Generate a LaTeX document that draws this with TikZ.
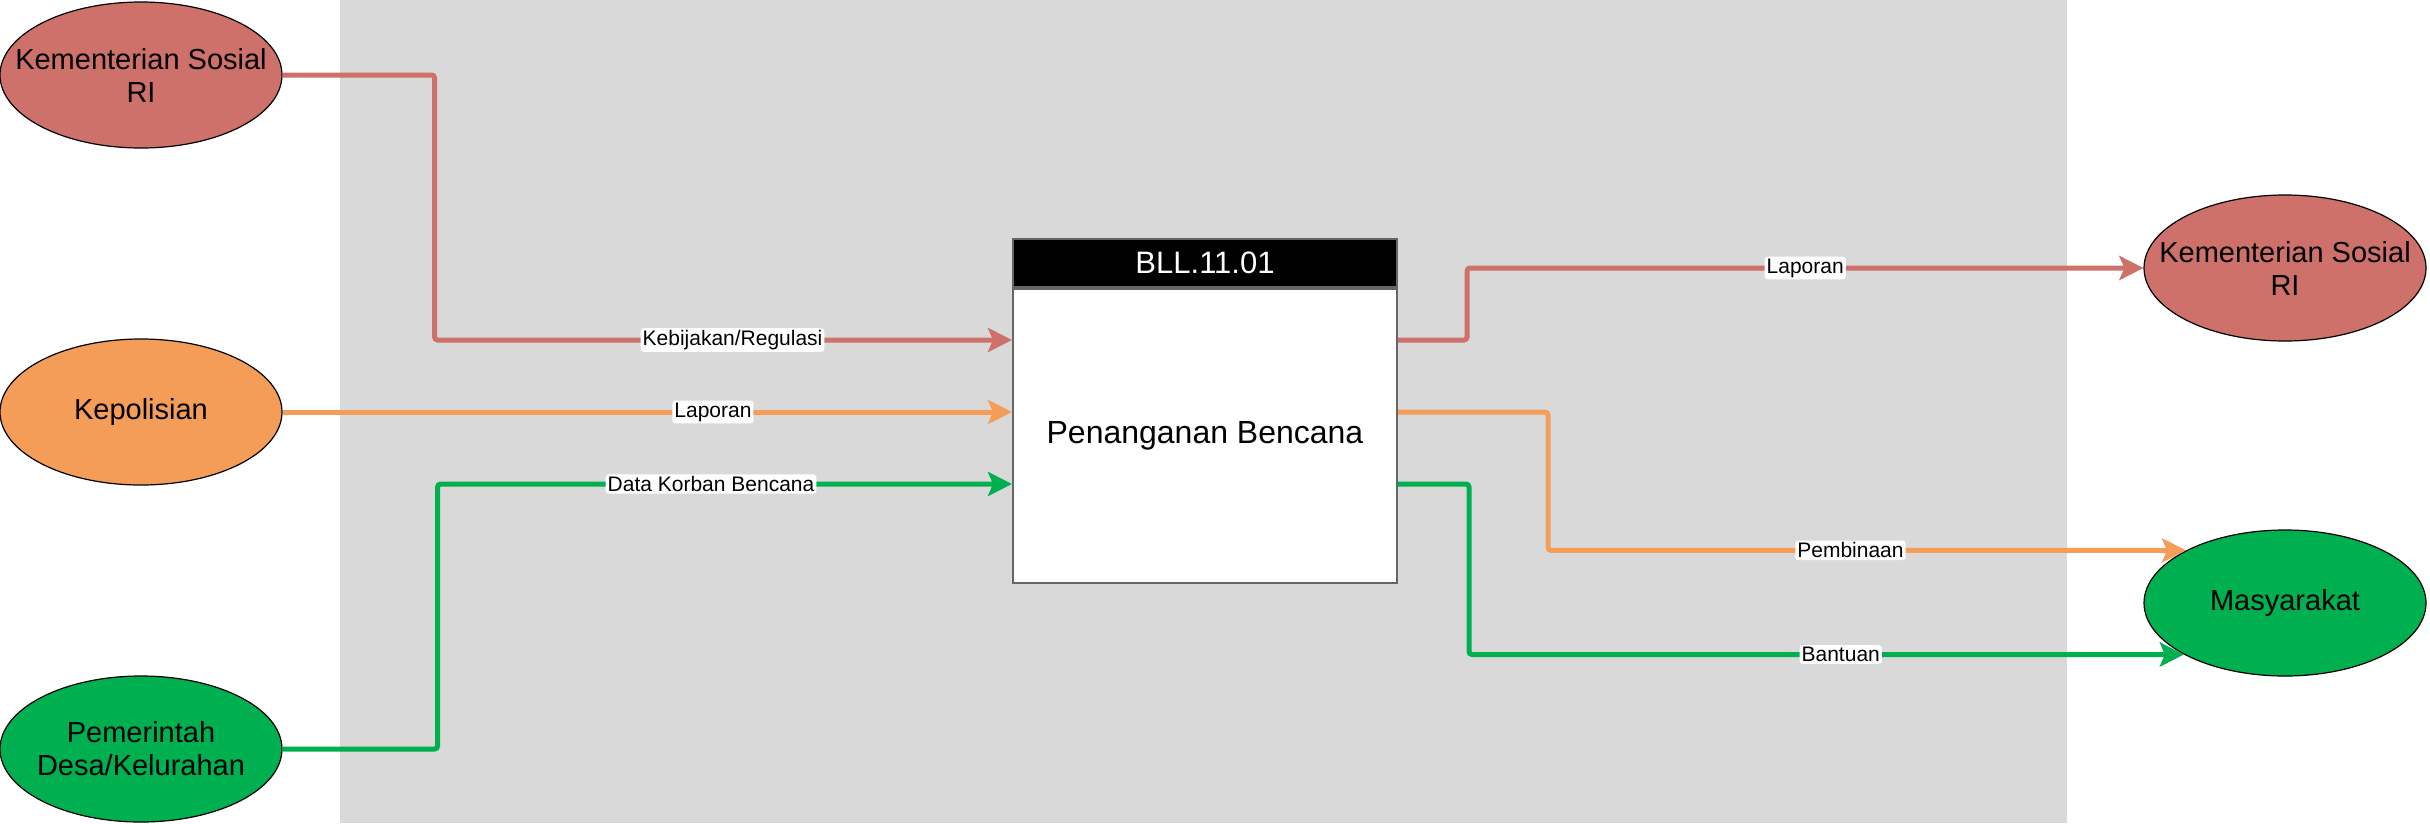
\documentclass[tikz,border=0pt]{standalone}
\usepackage{fontspec}
\setmainfont{Liberation Sans}
\usetikzlibrary{shapes.geometric,arrows.meta}
\definecolor{redc}{RGB}{205,113,106}
\definecolor{orac}{RGB}{244,157,88}
\definecolor{grnc}{RGB}{0,176,80}
\definecolor{bgc}{RGB}{217,217,217}
\tikzset{
  ent/.style={ellipse, draw=black, line width=1.2pt, minimum width=282pt, minimum height=146pt, inner xsep=-70pt, inner ysep=0pt, align=center, font=\fontsize{29}{33}\selectfont},
  flow/.style={line width=5pt, rounded corners=3pt, -{Stealth[length=24pt,width=24pt,inset=5pt]}},
  lbl/.style={fill=white, inner sep=2pt, text=black, font=\fontsize{21}{24}\selectfont},
}
\begin{document}
\begin{tikzpicture}[x=1pt,y=-1pt]
\useasboundingbox (0,0) rectangle (2430,823);
\fill[bgc] (340,0) rectangle (2067,823);
% entities
\node[ent, fill=redc] (k1) at (141,75) {Kementerian Sosial\\RI};
\node[ent, fill=orac] (kp) at (141,412) {Kepolisian};
\node[ent, fill=grnc] (pd) at (141,749) {Pemerintah\\Desa/Kelurahan};
\node[ent, fill=redc] (k2) at (2285,268) {Kementerian Sosial\\RI};
\node[ent, fill=grnc] (ms) at (2285,603) {Masyarakat};
% process box
\node[draw=black!60, line width=2pt, fill=white, minimum width=384pt, minimum height=294pt, inner sep=0pt, font=\fontsize{32}{36}\selectfont] (body) at (1205,436) {Penanganan Bencana};
\node[draw=black!60, line width=2pt, fill=black, text=white, minimum width=384pt, minimum height=48pt, inner sep=0pt, font=\fontsize{31}{35}\selectfont, anchor=south] (hdr) at (body.north) {BLL.11.01};
% inputs
\draw[flow, redc] (k1.east) -- ++(152,0) |- ([yshift=96pt]body.west) node[lbl, pos=0.758] {Kebijakan/Regulasi};
\draw[flow, orac] (kp.east) -- ([yshift=24pt]body.west) node[lbl, pos=0.59] {Laporan};
\draw[flow, grnc] (pd.east) -- ++(155,0) |- ([yshift=-48pt]body.west) node[lbl, pos=0.738] {Data Korban Bencana};
% outputs
\draw[flow, redc] ([yshift=96pt]body.east) -- ++(69,0) |- (k2.west) node[lbl, pos=0.75] {Laporan};
\draw[flow, orac] ([yshift=24pt]body.east) -- ++(150,0) |- (ms.152.8) node[lbl, pos=0.737] {Pembinaan};
\draw[flow, grnc] ([yshift=-48pt]body.east) -- ++(71,0) |- (ms.207.2) node[lbl, pos=0.76] {Bantuan};
\end{tikzpicture}
\end{document}
